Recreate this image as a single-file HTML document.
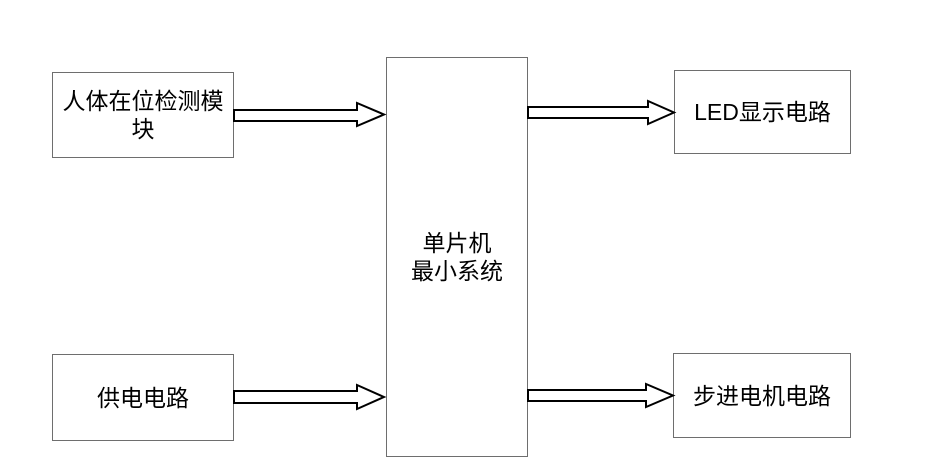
<!DOCTYPE html>
<html><head><meta charset="utf-8"><style>
body{margin:0;width:934px;height:462px;background:#fff;position:relative;overflow:hidden;font-family:"Liberation Sans","Noto Sans CJK SC",sans-serif;}
.b{position:absolute;border:1px solid #6e6e6e;box-sizing:border-box;display:flex;align-items:center;justify-content:center;text-align:center;font-size:23px;line-height:28px;color:#000;}
svg{position:absolute;left:0;top:0}
</style></head><body>
<div class="b" style="left:52px;top:72px;width:182px;height:86px;padding:0 1px">人体在位检测模<br>块</div>
<div class="b" style="left:386px;top:57px;width:142px;height:400px;">单片机<br>最小系统</div>
<div class="b" style="left:674px;top:70px;width:177px;height:84px;">LED显示电路</div>
<div class="b" style="left:52px;top:354px;width:182px;height:87px;">供电电路</div>
<div class="b" style="left:673px;top:353px;width:178px;height:85px;">步进电机电路</div>
<svg width="934" height="462">
<g fill="#fff" stroke="#000" stroke-width="2" stroke-linejoin="miter">
<polygon points="234,110 357,110 357,103 384,114.5 357,126 357,121 234,121"/>
<polygon points="528,107 648,107 648,101 674,112.5 648,124 648,118 528,118"/>
<polygon points="234,391 357,391 357,385 384,397 357,409 357,403 234,403"/>
<polygon points="528,390 646,390 646,384 673,395.5 646,407 646,401 528,401"/>
</g>
</svg>
</body></html>
